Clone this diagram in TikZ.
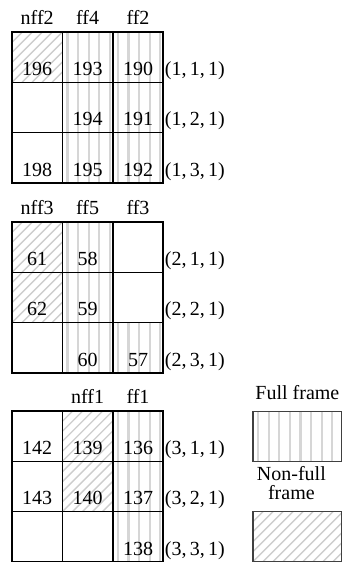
\documentclass[tikz,border=0pt]{standalone}
\usepackage{fontspec}
\setmainfont{Liberation Serif}
\usetikzlibrary{positioning}
\definecolor{stripeGray}{RGB}{214, 214, 214}
\definecolor{hatchGray}{RGB}{205, 205, 205}

\begin{document}
\begin{tikzpicture}[
    x=1pt, y=1pt,
    % --- Cell styles ---
    cellbox/.style={
        rectangle,
        draw=black,
        line width=1.6pt,
        minimum width=50.4pt,     % one block column
        minimum height=50.3pt,
        inner sep=0pt, outer sep=0pt,
        text height=41pt,         % pushes the number to the bottom
        text depth=4.5pt,
        font=\fontsize{20}{20}\selectfont
    },
    % vertical light stripes
    stripes/.style={
        path picture={
            \foreach \k in {0,...,8}
                \draw [stripeGray, line width=2.2pt]
                    ([xshift=5pt+\k*10.6pt]path picture bounding box.south west) --
                    ([xshift=5pt+\k*10.6pt]path picture bounding box.north west);
        }
    },
    % diagonal hatching
    hatch/.style={
        path picture={
            \foreach \k in {-10,...,9}
                \draw [hatchGray, line width=1.4pt]
                    ([xshift=\k*10pt]path picture bounding box.south west) --
                    ++(100pt,100pt);
        }
    },
    fullCell/.style={cellbox, stripes},
    nonfullCell/.style={cellbox, hatch},
    colLabel/.style={font=\fontsize{20}{20}\selectfont, inner sep=0pt},
    posLabel/.style={font=\fontsize{20}{20}\selectfont, inner sep=0pt, anchor=base west, xshift=1.5pt},
    legendBox/.style={rectangle, draw=black!75, line width=1.2pt, minimum width=88.7pt, minimum height=50pt, inner sep=0pt, outer sep=0pt},
    legendLabel/.style={font=\fontsize{20}{19}\selectfont, inner sep=0pt, align=center}
]
    \useasboundingbox (0,0) rectangle (343,-562);

    % --- FIRST BLOCK ---
    \node (g1c11) [nonfullCell] at (37.2,-57.2) {196};
    \node (g1c12) [fullCell, right=0pt of g1c11] {193};
    \node (g1c13) [fullCell, right=0pt of g1c12] {190};
    \node (g1c21) [cellbox, below=0pt of g1c11] {};
    \node (g1c22) [fullCell, right=0pt of g1c21] {194};
    \node (g1c23) [fullCell, right=0pt of g1c22] {191};
    \node (g1c31) [cellbox, below=0pt of g1c21] {198};
    \node (g1c32) [fullCell, right=0pt of g1c31] {195};
    \node (g1c33) [fullCell, right=0pt of g1c32] {192};

    \node (h1a) [colLabel, above=7pt of g1c11] {nff2};
    \node (h1b) [colLabel, above=7pt of g1c12] {ff4};
    \node (h1c) [colLabel, above=7pt of g1c13] {ff2};

    \node (p111) [posLabel] at (g1c13.base east) {(1,\,1,\,1)};
    \node (p121) [posLabel] at (g1c23.base east) {(1,\,2,\,1)};
    \node (p131) [posLabel] at (g1c33.base east) {(1,\,3,\,1)};

    % --- SECOND BLOCK ---
    \node (g2c11) [nonfullCell] at (37.2,-247.2) {61};
    \node (g2c12) [fullCell, right=0pt of g2c11] {58};
    \node (g2c13) [cellbox, right=0pt of g2c12] {};
    \node (g2c21) [nonfullCell, below=0pt of g2c11] {62};
    \node (g2c22) [fullCell, right=0pt of g2c21] {59};
    \node (g2c23) [cellbox, right=0pt of g2c22] {};
    \node (g2c31) [cellbox, below=0pt of g2c21] {};
    \node (g2c32) [fullCell, right=0pt of g2c31] {60};
    \node (g2c33) [fullCell, right=0pt of g2c32] {57};

    \node (h2a) [colLabel, above=7pt of g2c11] {nff3};
    \node (h2b) [colLabel, above=7pt of g2c12] {ff5};
    \node (h2c) [colLabel, above=7pt of g2c13] {ff3};

    \node (p211) [posLabel] at (g2c13.base east) {(2,\,1,\,1)};
    \node (p221) [posLabel] at (g2c23.base east) {(2,\,2,\,1)};
    \node (p231) [posLabel] at (g2c33.base east) {(2,\,3,\,1)};

    % --- THIRD BLOCK ---
    \node (g3c11) [cellbox] at (37.2,-436.2) {142};
    \node (g3c12) [nonfullCell, right=0pt of g3c11] {139};
    \node (g3c13) [fullCell, right=0pt of g3c12] {136};
    \node (g3c21) [cellbox, below=0pt of g3c11] {143};
    \node (g3c22) [nonfullCell, right=0pt of g3c21] {140};
    \node (g3c23) [fullCell, right=0pt of g3c22] {137};
    \node (g3c31) [cellbox, below=0pt of g3c21] {};
    \node (g3c32) [cellbox, right=0pt of g3c31] {};
    \node (g3c33) [fullCell, right=0pt of g3c32] {138};

    \node (h3b) [colLabel, above=7pt of g3c12] {nff1};
    \node (h3c) [colLabel, above=7pt of g3c13] {ff1};

    \node (p311) [posLabel] at (g3c13.base east) {(3,\,1,\,1)};
    \node (p321) [posLabel] at (g3c23.base east) {(3,\,2,\,1)};
    \node (p331) [posLabel] at (g3c33.base east) {(3,\,3,\,1)};

    % --- Legend ---
    \node (legFull) [legendBox, stripes] at (297.4,-436.2) {};
    \node (legNonfull) [legendBox, hatch] at (297.4,-536.6) {};

    \node (legFullText) [legendLabel, above=11pt of legFull] {Full frame};
    \node (legNonfullText) [legendLabel, above=12pt of legNonfull, xshift=-6pt] {Non-full\\frame};

\end{tikzpicture}
\end{document}
